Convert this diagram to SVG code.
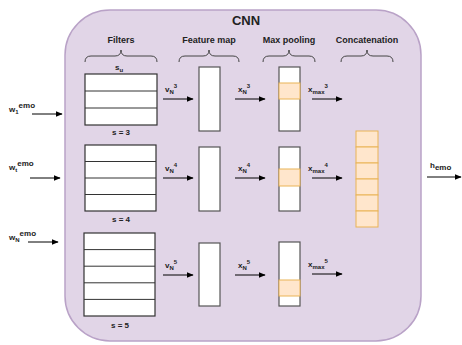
<svg xmlns="http://www.w3.org/2000/svg" width="462" height="345" viewBox="0 0 462 345">
<defs>
<marker id="ah" viewBox="0 0 10 10" refX="9" refY="5" markerWidth="7" markerHeight="7" markerUnits="userSpaceOnUse" orient="auto">
<path d="M0,1 L10,5 L0,9 z" fill="#000"/>
</marker>
<style>
text{font-family:"Liberation Sans",Arial,sans-serif;font-weight:bold;fill:#222}
.t{font-size:13px}
.h{font-size:9px;text-anchor:middle}
.l{font-size:8px}
.s{font-size:6px}
.box{fill:#fff;stroke:#333;stroke-width:1.2}
.fm{fill:#fff;stroke:#555;stroke-width:1.2}
.hl{fill:#ffe6cc;stroke:#eab456;stroke-width:1}
.br{fill:none;stroke:#444;stroke-width:1}
.ar{fill:none;stroke:#000;stroke-width:1;marker-end:url(#ah)}
.ln{stroke:#333;stroke-width:1}
</style>
</defs>
<g id="cnn">
<rect x="65" y="10" width="356" height="331" rx="45" ry="45" fill="#e1d5e7" stroke="#b9a2c7" stroke-width="1.5"/>
<text class="t" x="246" y="25" text-anchor="middle">CNN</text>
</g>
<g id="headers">
<text class="h" x="121" y="43">Filters</text>
<text class="h" x="209" y="43">Feature map</text>
<text class="h" x="289" y="43">Max pooling</text>
<text class="h" x="367" y="43">Concatenation</text>
<path class="br" d="M85,62 Q85,56 91,56 L115,56 Q121,56 121,50 Q121,56 127,56 L151,56 Q157,56 157,62"/>
<path class="br" d="M179,62 Q179,56 185,56 L203,56 Q209,56 209,50 Q209,56 215,56 L233,56 Q239,56 239,62"/>
<path class="br" d="M263,62 Q263,56 269,56 L283,56 Q289,56 289,50 Q289,56 295,56 L309,56 Q315,56 315,62"/>
<path class="br" d="M341,62 Q341,56 347,56 L361,56 Q367,56 367,50 Q367,56 373,56 L387,56 Q393,56 393,62"/>
<text class="l" x="115" y="70">s<tspan class="s" dy="2">u</tspan></text>
</g>
<g id="filter3">
<rect class="box" x="85" y="74" width="72" height="51"/>
<line class="ln" x1="85" y1="91" x2="157" y2="91"/>
<line class="ln" x1="85" y1="108" x2="157" y2="108"/>
<text class="l" x="121" y="135" text-anchor="middle">s = 3</text>
</g>
<g id="filter4">
<rect class="box" x="85" y="145" width="71" height="66"/>
<line class="ln" x1="85" y1="161.5" x2="156" y2="161.5"/>
<line class="ln" x1="85" y1="178" x2="156" y2="178"/>
<line class="ln" x1="85" y1="194.5" x2="156" y2="194.5"/>
<text class="l" x="121" y="222" text-anchor="middle">s = 4</text>
</g>
<g id="filter5">
<rect class="box" x="84" y="233" width="71" height="83"/>
<line class="ln" x1="84" y1="249.6" x2="155" y2="249.6"/>
<line class="ln" x1="84" y1="266.2" x2="155" y2="266.2"/>
<line class="ln" x1="84" y1="282.8" x2="155" y2="282.8"/>
<line class="ln" x1="84" y1="299.4" x2="155" y2="299.4"/>
<text class="l" x="120" y="328" text-anchor="middle">s = 5</text>
</g>
<g id="fmap3"><rect class="fm" x="199" y="67" width="21" height="64"/></g>
<g id="fmap4"><rect class="fm" x="199" y="147" width="21" height="64"/></g>
<g id="fmap5"><rect class="fm" x="199" y="243" width="21" height="63"/></g>
<g id="pool3">
<rect class="fm" x="279" y="67" width="21" height="64"/>
<rect class="hl" x="279" y="83" width="21" height="16"/>
</g>
<g id="pool4">
<rect class="fm" x="279" y="147" width="21" height="64"/>
<rect class="hl" x="279" y="169" width="21" height="17"/>
</g>
<g id="pool5">
<rect class="fm" x="279" y="242" width="21" height="64"/>
<rect class="hl" x="279" y="280" width="21" height="16"/>
</g>
<g id="concat">
<rect class="hl" x="356" y="131" width="22" height="16"/>
<rect class="hl" x="356" y="147" width="22" height="16"/>
<rect class="hl" x="356" y="163" width="22" height="16"/>
<rect class="hl" x="356" y="179" width="22" height="16"/>
<rect class="hl" x="356" y="195" width="22" height="16"/>
<rect class="hl" x="356" y="211" width="22" height="16"/>
</g>
<g id="connectors">
<line class="ar" x1="32" y1="114" x2="62" y2="114"/>
<line class="ar" x1="30" y1="178" x2="60" y2="178"/>
<line class="ar" x1="28" y1="242" x2="58" y2="242"/>
<line class="ar" x1="163" y1="99" x2="193" y2="99"/>
<line class="ar" x1="163" y1="178" x2="193" y2="178"/>
<line class="ar" x1="163" y1="275" x2="193" y2="275"/>
<line class="ar" x1="235" y1="99" x2="265" y2="99"/>
<line class="ar" x1="235" y1="178" x2="265" y2="178"/>
<line class="ar" x1="235" y1="275" x2="265" y2="275"/>
<line class="ar" x1="312" y1="99" x2="342" y2="99"/>
<line class="ar" x1="312" y1="178" x2="342" y2="178"/>
<line class="ar" x1="312" y1="274" x2="342" y2="274"/>
<line class="ar" x1="427" y1="177" x2="461" y2="177"/>
</g>
<g id="labels">
<text class="l" x="9" y="112">w<tspan class="s" dy="2">1</tspan><tspan class="l" dy="-6">emo</tspan></text>
<text class="l" x="9" y="170">w<tspan class="s" dy="2">t</tspan><tspan class="l" dy="-6">emo</tspan></text>
<text class="l" x="9" y="240">w<tspan class="s" dy="2">N</tspan><tspan class="l" dy="-6">emo</tspan></text>
<text class="l" x="165" y="92">v<tspan class="s" dy="2">N</tspan><tspan class="s" dy="-6">3</tspan></text>
<text class="l" x="165" y="171">v<tspan class="s" dy="2">N</tspan><tspan class="s" dy="-6">4</tspan></text>
<text class="l" x="165" y="268">v<tspan class="s" dy="2">N</tspan><tspan class="s" dy="-6">5</tspan></text>
<text class="l" x="238" y="92">x<tspan class="s" dy="2">N</tspan><tspan class="s" dy="-6">3</tspan></text>
<text class="l" x="238" y="171">x<tspan class="s" dy="2">N</tspan><tspan class="s" dy="-6">4</tspan></text>
<text class="l" x="238" y="268">x<tspan class="s" dy="2">N</tspan><tspan class="s" dy="-6">5</tspan></text>
<text class="l" x="308" y="92">x<tspan class="s" dy="2">max</tspan><tspan class="s" dy="-6">3</tspan></text>
<text class="l" x="308" y="171">x<tspan class="s" dy="2">max</tspan><tspan class="s" dy="-6">4</tspan></text>
<text class="l" x="308" y="267">x<tspan class="s" dy="2">max</tspan><tspan class="s" dy="-6">5</tspan></text>
<text class="l" x="430" y="168">h<tspan class="l" dy="2">emo</tspan></text>
</g>
</svg>
